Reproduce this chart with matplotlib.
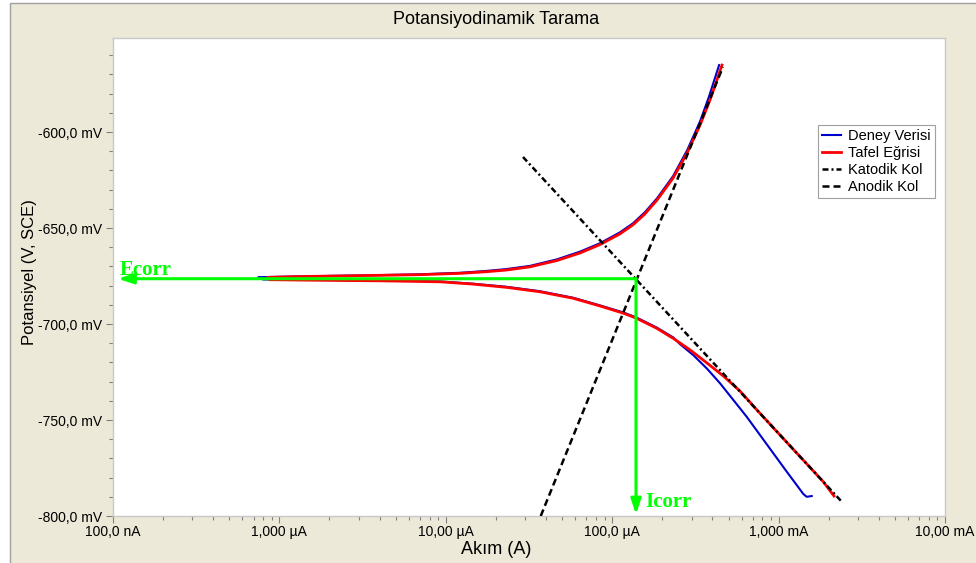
import numpy as np
import matplotlib
matplotlib.use("Agg")
import matplotlib.pyplot as plt
from matplotlib.patches import Rectangle
from matplotlib.ticker import FixedLocator, FixedFormatter, LogLocator, MultipleLocator, NullFormatter

plt.rcParams['font.family'] = ['Liberation Sans', 'DejaVu Sans']

# Measured polarization data (current in µA, potential in mV vs SCE)
anodic_exp_uA = [0.75, 1.28, 3.50, 7.00, 12.2, 17.2, 23.0, 32.1, 46.6, 64.0, 84.5, 111, 133, 157, 186,
                 232, 282, 337, 380, 439]
anodic_exp_mV = [-675.6, -675.2, -674.6, -674.1, -673.3, -672.4, -671.4, -669.7, -666.3, -662.3, -657.9,
                 -652.3, -647.6, -641.8, -634.5, -623.0, -609.5, -594.5, -582.0, -565.1]
cathodic_exp_uA = [0.80, 1.33, 4.14, 9.23, 14.6, 23.2, 36.8, 58.3, 84.5, 117, 140, 185, 233, 255, 307, 370,
                   445, 535, 643, 773, 929, 1119, 1285, 1407, 1475, 1581]
cathodic_exp_mV = [-676.8, -677.0, -677.3, -677.8, -679.0, -680.6, -682.9, -686.3, -690.3, -694.0, -696.6,
                   -701.8, -707.0, -710.4, -716.2, -723.1, -730.9, -739.6, -748.3, -757.8, -767.3, -776.9,
                   -783.9, -788.5, -790.0, -789.6]

# Tafel fit curve
anodic_fit_uA = [0.853, 1.28, 3.50, 7.00, 12.2, 17.2, 23.0, 32.1, 46.6, 64.0, 84.5, 111, 133, 157, 186,
                 232, 282, 337, 387, 457]
anodic_fit_mV = [-675.7, -675.3, -674.7, -674.3, -673.6, -672.8, -671.9, -670.2, -666.9, -663.0, -658.6,
                 -653.1, -648.4, -642.7, -635.4, -624.0, -610.9, -596.4, -583.3, -565.1]
cathodic_fit_uA = [0.877, 1.33, 4.14, 9.23, 14.6, 23.2, 36.8, 58.3, 84.5, 117, 140, 185, 233, 294, 370, 466,
                   586, 738, 929, 1170, 1475, 1857, 2153]
cathodic_fit_mV = [-676.9, -677.1, -677.5, -678.0, -679.2, -680.9, -683.2, -686.6, -690.6, -694.4, -697.0,
                   -702.2, -707.5, -713.5, -720.2, -727.1, -734.9, -744.6, -754.0, -763.4, -772.8, -782.2, -789.6]

# Tafel lines
cathodic_line_uA = [29.1, 2404]
cathodic_line_mV = [-613.0, -792.7]
anodic_line_uA = [37.2, 463]
anodic_line_mV = [-800.0, -566.1]

# Corrosion point
E_corr = -676.4   # mV
I_corr = 139.0    # µA

x_ticks = [1e-7, 1e-6, 1e-5, 1e-4, 1e-3, 1e-2]
x_tick_labels = ['100,0 nA', '1,000 µA', '10,00 µA', '100,0 µA', '1,000 mA', '10,00 mA']
y_ticks = [-800, -750, -700, -650, -600]
y_tick_labels = ['-800,0 mV', '-750,0 mV', '-700,0 mV', '-650,0 mV', '-600,0 mV']

W, H = 976, 563
fig = plt.figure(figsize=(W / 100, H / 100), dpi=100)
fig.patch.set_facecolor('white')
panel = Rectangle((10 / W, -0.02), 1.0, 1 - 3 / H + 0.02, transform=fig.transFigure,
                  facecolor='#ECE9D8', edgecolor='#a0a0a0', lw=1.0, zorder=-10)
fig.patches.append(panel)

ax = fig.add_axes([113 / W, 47 / H, 832 / W, 478 / H])
ax.set_zorder(1)
ax.set_facecolor('white')
ax.set_xscale('log')
ax.set_xlim(1e-7, 1e-2)
ax.set_ylim(-800, -551)

uA = 1e-6
ax.plot(np.array(anodic_exp_uA) * uA, anodic_exp_mV, color='#0000cc', lw=1.5, zorder=3)
ax.plot(np.array(cathodic_exp_uA) * uA, cathodic_exp_mV, color='#0000cc', lw=1.5, zorder=3,
        label='Deney Verisi')
ax.plot(np.array(anodic_fit_uA) * uA, anodic_fit_mV, color='#ff0000', lw=2.0, zorder=4)
ax.plot(np.array(cathodic_fit_uA) * uA, cathodic_fit_mV, color='#ff0000', lw=2.0, zorder=4,
        label='Tafel Eğrisi')
ax.plot(np.array(cathodic_line_uA) * uA, cathodic_line_mV, color='black', lw=1.8, zorder=5,
        linestyle=(0, (2.4, 1.2, 0.8, 1.2)), label='Katodik Kol')
ax.plot(np.array(anodic_line_uA) * uA, anodic_line_mV, color='black', lw=1.8, zorder=5,
        linestyle=(0, (2.8, 1.6)), label='Anodik Kol')

# Ecorr / Icorr construction
green = '#00ff00'
arrow = dict(arrowstyle='-|>,head_length=0.9,head_width=0.3', color=green, lw=2.2,
             shrinkA=0, shrinkB=0)
ax.annotate('', xy=(1.072e-7, E_corr), xytext=(I_corr * uA, E_corr), arrowprops=arrow, zorder=6,
            annotation_clip=False)
ax.annotate('', xy=(I_corr * uA, -799.2), xytext=(I_corr * uA, E_corr), arrowprops=arrow, zorder=6,
            annotation_clip=False)
ax.text(1.09e-7, -674.4, 'Ecorr', color=green, fontsize=15, fontweight='bold',
        family='Liberation Serif', ha='left', va='baseline', zorder=7)
ax.text(1.574e-4, -795.3, 'Icorr', color=green, fontsize=15, fontweight='bold',
        family='Liberation Serif', ha='left', va='baseline', zorder=7)

# Axes styling
ax.xaxis.set_major_locator(FixedLocator(x_ticks))
ax.xaxis.set_major_formatter(FixedFormatter(x_tick_labels))
ax.xaxis.set_minor_locator(LogLocator(base=10, subs=np.arange(2, 10)))
ax.xaxis.set_minor_formatter(NullFormatter())
ax.yaxis.set_major_locator(FixedLocator(y_ticks))
ax.yaxis.set_major_formatter(FixedFormatter(y_tick_labels))
ax.yaxis.set_minor_locator(MultipleLocator(10))
ax.tick_params(which='both', direction='out', color='#808080', labelsize=10)
ax.tick_params(which='major', length=5, width=0.8)
ax.tick_params(which='minor', length=3, width=0.8)
ax.tick_params(axis='x', pad=1.5)
ax.tick_params(axis='y', pad=3)
for sp in ax.spines.values():
    sp.set_color('#c8c8c8')
    sp.set_linewidth(1.0)

leg = ax.legend(loc='upper right', bbox_to_anchor=(0.988, 0.818), borderaxespad=0, fontsize=10.5,
                frameon=True, fancybox=False, framealpha=1, edgecolor='#a0a0a0',
                handlelength=1.3, handletextpad=0.45, labelspacing=0.2, borderpad=0.3)
leg.get_frame().set_linewidth(0.8)

fig.text(496 / W, 1 - 19 / H, 'Potansiyodinamik Tarama', ha='center', va='center', fontsize=13)
fig.text(496 / W, 1 - 549 / H, 'Akım (A)', ha='center', va='center', fontsize=13)
fig.text(30 / W, 1 - 272 / H, 'Potansiyel (V, SCE)', ha='center', va='center', rotation=90, fontsize=12)

fig.savefig('out.png', dpi=100, facecolor=fig.get_facecolor())
